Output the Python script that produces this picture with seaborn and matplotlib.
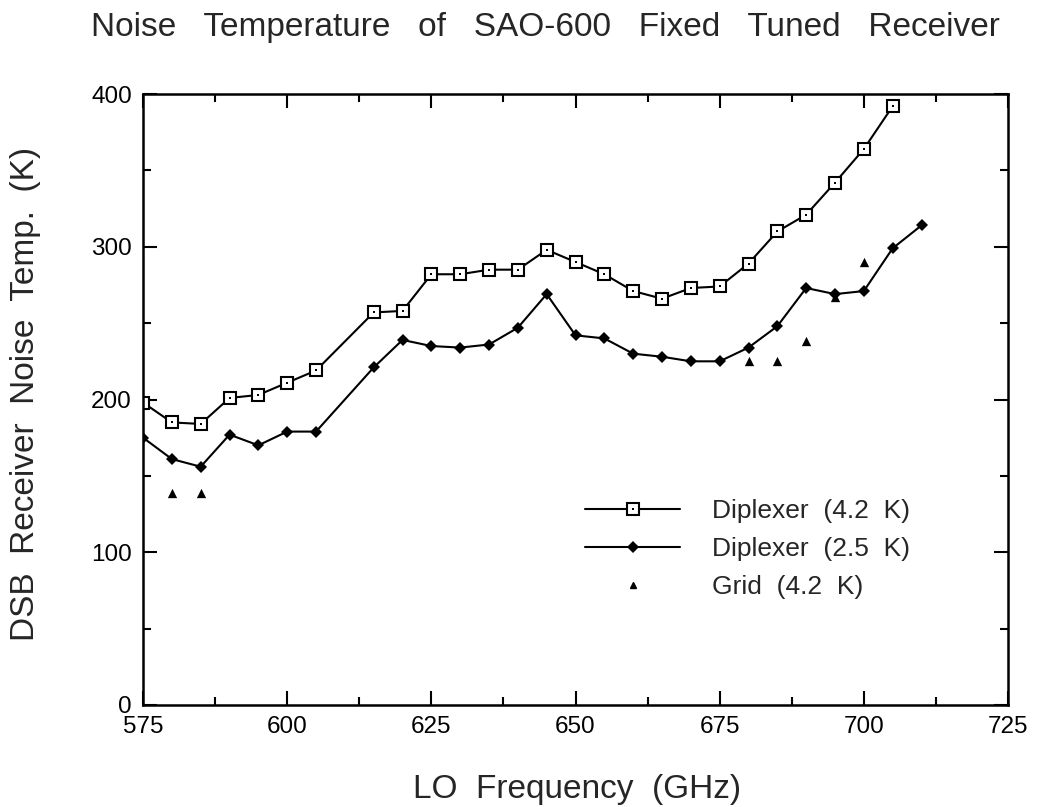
import matplotlib
matplotlib.use('Agg')
import matplotlib.pyplot as plt
import seaborn as sns
from matplotlib.ticker import MultipleLocator
from matplotlib.legend_handler import HandlerTuple

# Dados
freq_42 = [575, 580, 585, 590, 595, 600, 605, 615, 620, 625, 630, 635, 640,
           645, 650, 655, 660, 665, 670, 675, 680, 685, 690, 695, 700, 705]
temp_42 = [198, 185, 184, 201, 203, 211, 219, 257, 258, 282, 282, 285, 285,
           298, 290, 282, 271, 266, 273, 274, 289, 310, 321, 342, 364, 392]

freq_25 = [575, 580, 585, 590, 595, 600, 605, 615, 620, 625, 630, 635, 640,
           645, 650, 655, 660, 665, 670, 675, 680, 685, 690, 695, 700, 705, 710]
temp_25 = [175, 161, 156, 177, 170, 179, 179, 221, 239, 235, 234, 236, 247,
           269, 242, 240, 230, 228, 225, 225, 234, 248, 273, 269, 271, 299, 314]

freq_grid = [580, 585, 680, 685, 690, 695, 700]
temp_grid = [139, 139, 225, 225, 238, 267, 290]

sns.set_style('ticks')
plt.rcParams['font.family'] = ['Liberation Sans', 'DejaVu Sans']

fig = plt.figure(figsize=(10.38, 8.07), dpi=100)
ax = fig.add_axes([0.1378, 0.1264, 0.8333, 0.7571])

sns.lineplot(x=freq_42, y=temp_42, ax=ax, color='black', linewidth=1.5,
             marker='s', markersize=8.5, markerfacecolor='white',
             markeredgecolor='black', markeredgewidth=1.5)
sns.lineplot(x=freq_42, y=temp_42, ax=ax, color='black', linewidth=0,
             marker='s', markersize=2, markeredgewidth=0)
sns.lineplot(x=freq_25, y=temp_25, ax=ax, color='black', linewidth=1.5,
             marker='D', markersize=6.5, markeredgewidth=0)
sns.scatterplot(x=freq_grid, y=temp_grid, ax=ax, color='black', marker='^',
                s=45, linewidth=0)

lines = ax.get_lines()
h_sq = (lines[0], lines[1])
h_di = lines[2]
h_tr = plt.Line2D([], [], color='black', marker='^', markersize=5, linewidth=0)

ax.legend([h_sq, h_di, h_tr],
          ['Diplexer  (4.2  K)', 'Diplexer  (2.5  K)', 'Grid  (4.2  K)'],
          handler_map={tuple: HandlerTuple(ndivide=1, pad=0)},
          loc='center left', bbox_to_anchor=(0.511, 0.255), frameon=False,
          borderpad=0, borderaxespad=0,
          fontsize=19, handlelength=3.6, handletextpad=1.2, labelspacing=0.52)

ax.set_xlim(575, 725)
ax.set_ylim(0, 400)
ax.xaxis.set_major_locator(MultipleLocator(25))
ax.xaxis.set_minor_locator(MultipleLocator(12.5))
ax.yaxis.set_major_locator(MultipleLocator(100))
ax.yaxis.set_minor_locator(MultipleLocator(50))
ax.tick_params(which='both', direction='in', top=True, right=True,
               width=1.5, labelsize=17.5, colors='black')
ax.tick_params(which='major', length=10, pad=8)
ax.tick_params(which='minor', length=6)
for s in ax.spines.values():
    s.set_linewidth(1.8)
    s.set_color('black')

fig.text(0.525, 0.966, 'Noise   Temperature   of   SAO-600   Fixed   Tuned   Receiver',
         ha='center', va='center', fontsize=24)
fig.text(0.025, 0.512, 'DSB  Receiver  Noise  Temp.  (K)', rotation=90,
         ha='center', va='center', fontsize=24)
fig.text(0.556, 0.022, 'LO  Frequency  (GHz)', ha='center', va='center',
         fontsize=24)

plt.savefig('out.png', dpi=100)
